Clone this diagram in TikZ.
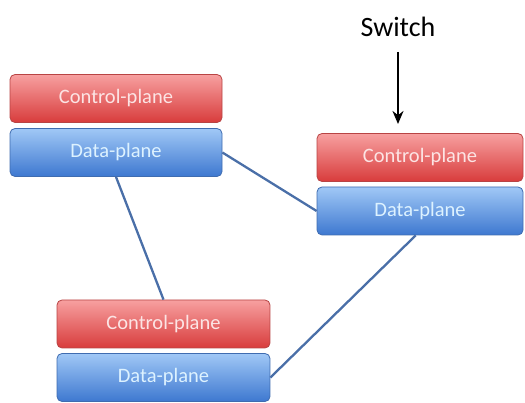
\documentclass[tikz,border=0pt]{standalone}
\usepackage{fontspec}
\setmainfont{Carlito}
\usetikzlibrary{arrows.meta}
\definecolor{ctrltop}{HTML}{F7A0A0}
\definecolor{ctrlbot}{HTML}{D83C3C}
\definecolor{ctrledge}{HTML}{B84444}
\definecolor{ctrltext}{HTML}{FCE4E4}
\definecolor{datatop}{HTML}{A0C8F6}
\definecolor{databot}{HTML}{3E78D0}
\definecolor{dataedge}{HTML}{3F6CB0}
\definecolor{datatext}{HTML}{DDF2FF}
\definecolor{linkcol}{HTML}{4A6FA8}
\tikzset{
  plane/.style={rounded corners=5pt, minimum height=48pt, inner sep=0pt,
    font=\fontsize{20.5}{22}\selectfont, line width=0.8pt},
  ctrlbox/.style={plane, draw=ctrledge, top color=ctrltop, bottom color=ctrlbot, text=ctrltext},
  databox/.style={plane, draw=dataedge, top color=datatop, bottom color=databot, text=datatext},
  link/.style={draw=linkcol, line width=2.3pt}
}
\begin{document}
\begin{tikzpicture}[x=1pt,y=-1pt]
\useasboundingbox (0,0) rectangle (525,403);
% three switches, each a control plane over a data plane
\node[ctrlbox, minimum width=212pt] (tlC) at (116,98.5) {Control-plane};
\node[databox, minimum width=212pt] (tlD) at (116,152.5) {Data-plane};
\node[ctrlbox, minimum width=206pt] (rC) at (420,157.5) {Control-plane};
\node[databox, minimum width=206pt] (rD) at (420,211) {Data-plane};
\node[ctrlbox, minimum width=213pt] (bC) at (163.5,324) {Control-plane};
\node[databox, minimum width=213pt] (bD) at (163.5,377.5) {Data-plane};
% links between the data planes
\draw[link] (tlD.east) -- (rD.west);
\draw[link] (tlD.south) -- (bC.north);
\draw[link] (bD.east) -- (rD.-100);
% label and pointer
\node[font=\fontsize{28}{30}\selectfont] (sw) at (398,27) {Switch};
\coordinate (swtail) at (398,52);
\coordinate (swtip) at (398,124);
\draw[line width=2.3pt, -{Stealth[length=13pt,width=11pt]}] (swtail) -- (swtip);
\end{tikzpicture}
\end{document}
